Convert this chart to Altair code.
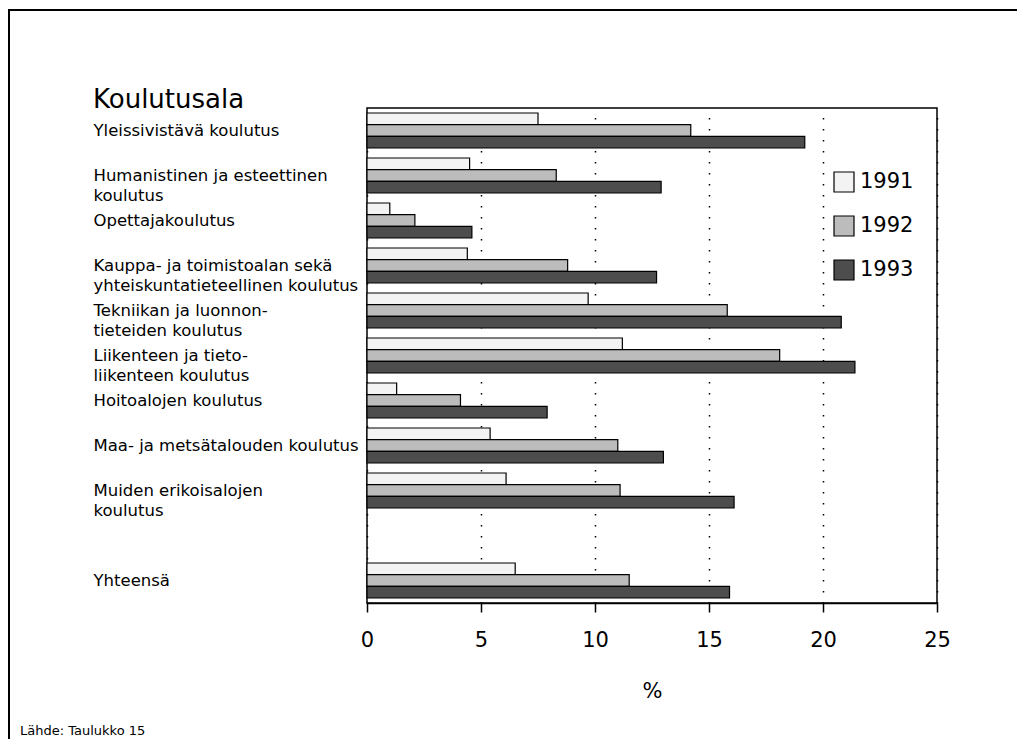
import altair as alt
import pandas as pd

categories = [
    "Yleissivistävä koulutus",
    "Humanistinen ja esteettinen|koulutus",
    "Opettajakoulutus",
    "Kauppa- ja toimistoalan sekä|yhteiskuntatieteellinen koulutus",
    "Tekniikan ja luonnon-|tieteiden koulutus",
    "Liikenteen ja tieto-|liikenteen koulutus",
    "Hoitoalojen koulutus",
    "Maa- ja metsätalouden koulutus",
    "Muiden erikoisalojen|koulutus",
    "Yhteensä",
]
years = ["1991", "1992", "1993"]
v1991 = [7.5, 4.5, 1.0, 4.4, 9.7, 11.2, 1.3, 5.4, 6.1, 6.5]
v1992 = [14.2, 8.3, 2.1, 8.8, 15.8, 18.1, 4.1, 11.0, 11.1, 11.5]
v1993 = [19.2, 12.9, 4.6, 12.7, 20.8, 21.4, 7.9, 13.0, 16.1, 15.9]
x_ticks = [0, 5, 10, 15, 20, 25]

title_text = "Koulutusala"
source_text = "Lähde: Taulukko 15"
x_title = "%"

spacer = " "
y_domain = categories[:-1] + [spacer] + categories[-1:]

rows = []
for yr, vals in zip(years, [v1991, v1992, v1993]):
    for c, v in zip(categories, vals):
        rows.append({"ala": c, "vuosi": yr, "arvo": v})
df = pd.DataFrame(rows)

FONT = "DejaVu Sans"

bars = alt.Chart(df).mark_bar(stroke="black", strokeWidth=1.2, opacity=1).encode(
    x=alt.X(
        "arvo:Q",
        scale=alt.Scale(domain=[0, 25], nice=False),
        axis=alt.Axis(
            values=x_ticks,
            title=x_title,
            grid=True,
            gridDash=[1.5, 9.5],
            gridColor="black",
            gridWidth=1.5,
            domainColor="black",
            domainWidth=1.5,
            tickColor="black",
            tickWidth=1.5,
            tickSize=9,
            labelFlush=False,
            labelFontSize=21,
            labelFont=FONT,
            labelColor="black",
            labelPadding=17,
            titleFontSize=21,
            titleFont=FONT,
            titleFontWeight="normal",
            titleColor="black",
            titlePadding=30,
        ),
    ),
    y=alt.Y(
        "ala:N",
        scale=alt.Scale(domain=y_domain, paddingInner=0.222, paddingOuter=0.111),
        axis=alt.Axis(
            title=None,
            ticks=False,
            tickSize=0,
            domain=False,
            labelAlign="left",
            labelBaseline="middle",
            labelPadding=274,
            labelFontSize=16.5,
            labelFont=FONT,
            labelColor="black",
            labelLimit=400,
            labelLineHeight=20,
            labelExpr="split(datum.label, '|')",
        ),
    ),
    yOffset=alt.YOffset("vuosi:N", scale=alt.Scale(domain=years, paddingInner=0, paddingOuter=0)),
    color=alt.Color(
        "vuosi:N",
        scale=alt.Scale(domain=years, range=["#f3f3f3", "#bcbcbc", "#4d4d4d"]),
        legend=alt.Legend(
            title=None,
            orient="none",
            legendX=466,
            legendY=63,
            symbolType="square",
            symbolSize=400,
            symbolStrokeColor="black",
            symbolStrokeWidth=1.2,
            symbolOpacity=1,
            labelFontSize=21,
            labelFont=FONT,
            labelColor="black",
            rowPadding=18,
            labelOffset=5,
        ),
    ),
)

title_df = pd.DataFrame({"t": [title_text]})
title_mark = alt.Chart(title_df).mark_text(
    align="left", baseline="middle", fontSize=26, font=FONT, color="black"
).encode(text="t:N", x=alt.value(-274), y=alt.value(-8))

source_df = pd.DataFrame({"t": [source_text]})
source_mark = alt.Chart(source_df).mark_text(
    align="left", baseline="middle", fontSize=13, font=FONT, color="black"
).encode(text="t:N", x=alt.value(-347), y=alt.value(623))

frame_df = pd.DataFrame({"k": [1]})
frame = alt.Chart(frame_df).mark_rect(fill=None, stroke="black", strokeWidth=2).encode(
    x=alt.value(-358), x2=alt.value(800), y=alt.value(-98), y2=alt.value(800)
)

chart = alt.layer(bars, title_mark, source_mark, frame).properties(
    width=570,
    height=495,
    autosize=alt.AutoSizeParams(type="none"),
    padding={"left": 359, "top": 100, "right": 80, "bottom": 136},
    background="white",
).configure_view(stroke="black", strokeWidth=1.5)

chart.save("out.html", embed_options={"renderer": "svg", "actions": False})
